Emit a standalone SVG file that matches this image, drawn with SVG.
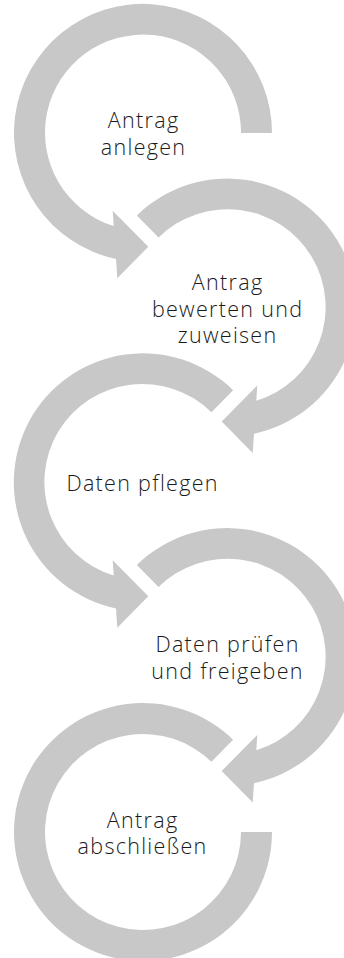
<svg xmlns="http://www.w3.org/2000/svg" width="344" height="958" viewBox="0 0 344 958">
<style>
.band{fill:#c8c8c8;stroke:none}
.lbl{font-family:"Open Sans","Noto Sans",sans-serif;font-weight:300;font-size:21.5px;letter-spacing:1.3px;fill:#1a1a1a;text-anchor:middle}
</style>
<defs>
<path id="arrowFull" d="M98,0 L129,0 A129,129 0 1 0 -27,126 L-25.7,145.3 L5.3,113.7 L-30.3,77.7 L-29.3,93.1 A98,98 0 1 1 98,0 Z"/>
<path id="arrowCut" d="M68.44,-70.14 L90.09,-92.32 A129,129 0 1 0 -27,126 L-25.7,145.3 L5.3,113.7 L-30.3,77.7 L-29.3,93.1 A98,98 0 1 1 68.44,-70.14 Z"/>
<path id="arcEnd" d="M68.44,-70.14 L90.09,-92.32 A129,129 0 1 0 129,0 L98,0 A98,98 0 1 1 68.44,-70.14 Z"/>
</defs>
<g id="connectors">
<use href="#arrowFull" class="band" transform="translate(143,133)"/>
<use href="#arrowCut" class="band" transform="translate(227,307.75) scale(-1,1)"/>
<use href="#arrowCut" class="band" transform="translate(143,482.5)"/>
<use href="#arrowCut" class="band" transform="translate(227,657.25) scale(-1,1)"/>
<use href="#arcEnd" class="band" transform="translate(143,832)"/>
</g>
<g id="node1"><text class="lbl" x="143.6" y="128.3">Antrag</text><text class="lbl" x="143.6" y="155">anlegen</text></g>
<g id="node2"><text class="lbl" x="227.6" y="290">Antrag</text><text class="lbl" x="227.6" y="316.5">bewerten und</text><text class="lbl" x="227.6" y="343">zuweisen</text></g>
<g id="node3"><text class="lbl" x="142.6" y="491">Daten pflegen</text></g>
<g id="node4"><text class="lbl" x="227.6" y="652">Daten prüfen</text><text class="lbl" x="227.6" y="678.5">und freigeben</text></g>
<g id="node5"><text class="lbl" x="142.6" y="827.5">Antrag</text><text class="lbl" x="142.6" y="854">abschließen</text></g>
</svg>
